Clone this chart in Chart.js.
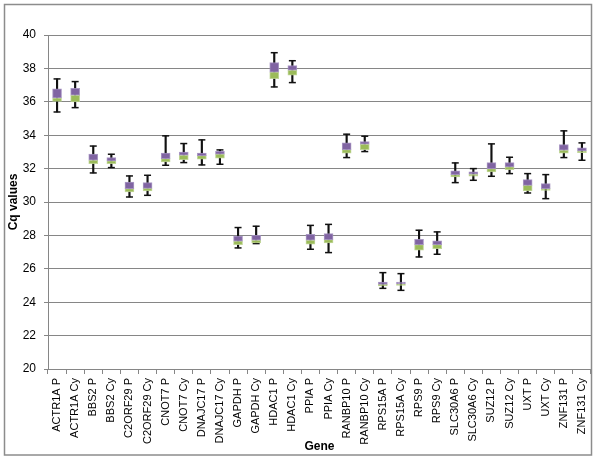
<!DOCTYPE html>
<html>
<head>
<meta charset="utf-8">
<script src="https://cdn.jsdelivr.net/npm/chart.js@4.4.1/dist/chart.umd.min.js"></script>
<style>
  html, body { margin: 0; padding: 0; background: #fff; }
  #wrap { width: 600px; height: 462px; }
</style>
</head>
<body>
<div id="wrap"><canvas id="chart" width="600" height="462"></canvas></div>
<script>
// Data
const genes = ['ACTR1A P', 'ACTR1A Cy', 'BBS2 P', 'BBS2 Cy', 'C2ORF29 P', 'C2ORF29 Cy',
    'CNOT7 P', 'CNOT7 Cy', 'DNAJC17 P', 'DNAJC17 Cy', 'GAPDH P', 'GAPDH Cy',
    'HDAC1 P', 'HDAC1 Cy', 'PPIA P', 'PPIA Cy', 'RANBP10 P', 'RANBP10 Cy',
    'RPS15A P', 'RPS15A Cy', 'RPS9 P', 'RPS9 Cy', 'SLC30A6 P', 'SLC30A6 Cy',
    'SUZ12 P', 'SUZ12 Cy', 'UXT P', 'UXT Cy', 'ZNF131 P', 'ZNF131 Cy'];

const whiskerMin = [35.39, 35.65, 31.74, 32.06, 30.30, 30.40, 32.20, 32.36, 32.22, 32.26,
    27.25, 27.51, 36.89, 37.15, 27.17, 26.97, 32.66, 33.02, 24.83, 24.71,
    26.71, 26.87, 31.16, 31.30, 31.54, 31.70, 30.54, 30.20, 32.66, 32.50];
const q1 = [36.03, 35.99, 32.30, 32.30, 30.60, 30.66, 32.40, 32.54, 32.56, 32.62,
    27.45, 27.55, 37.39, 37.59, 27.47, 27.55, 32.93, 33.14, 24.97, 25.00,
    27.11, 27.21, 31.50, 31.54, 31.80, 31.94, 30.66, 30.70, 32.93, 32.96];
const median = [36.23, 36.39, 32.50, 32.46, 30.80, 30.82, 32.60, 32.80, 32.78, 32.87,
    27.66, 27.71, 37.78, 37.89, 27.71, 27.75, 33.14, 33.46, 25.07, 25.09,
    27.45, 27.45, 31.64, 31.66, 32.00, 32.10, 31.00, 30.80, 33.10, 33.06];
const q3 = [36.77, 36.81, 32.87, 32.66, 31.20, 31.16, 32.93, 32.99, 32.93, 33.04,
    27.96, 28.00, 38.35, 38.17, 28.07, 28.11, 33.54, 33.62, 25.21, 25.21,
    27.77, 27.67, 31.86, 31.80, 32.36, 32.36, 31.34, 31.10, 33.44, 33.24];
const whiskerMax = [37.37, 37.21, 33.35, 32.86, 31.56, 31.60, 33.96, 33.50, 33.72, 33.12,
    28.47, 28.55, 38.94, 38.46, 28.60, 28.66, 34.06, 33.94, 25.77, 25.71,
    28.31, 28.21, 32.34, 32.00, 33.48, 32.68, 31.70, 31.64, 34.26, 33.54];

const yMin = 20;
const yMax = 40;
const yStep = 2;

const GRID = '#868686';
const PURPLE = '#8064A2';
const GREEN = '#9BBB59';

Chart.defaults.font.family = '"Liberation Sans Narrow", "Liberation Sans", Arial, sans-serif';
Chart.defaults.color = '#000';

// outer frame round the whole chart
const framePlugin = {
    id: 'frame',
    afterDraw(chart) {
        const ctx = chart.ctx;
        ctx.save();
        ctx.strokeStyle = '#8c8c8c';
        ctx.lineWidth = 1.5;
        ctx.strokeRect(4.5, 4.5, 587, 450.5);
        ctx.restore();
    }
};

const boxes = (values, lows, color, edge) => ({
    type: 'bar',
    data: values.map((v, i) => [lows[i], v]),
    backgroundColor: color,
    borderColor: edge,
    borderWidth: 1,
    borderSkipped: false,
    barThickness: 9,
    grouped: false,
    order: 1
});

const caps = (values) => ({
    type: 'line',
    data: values,
    showLine: false,
    pointStyle: 'line',
    pointRadius: 3.5,
    pointHoverRadius: 3.5,
    borderColor: '#111',
    borderWidth: 1.5,
    order: 3
});

new Chart(document.getElementById('chart'), {
    data: {
        labels: genes,
        datasets: [
            boxes(q3, median, PURPLE, 'rgba(160,140,190,0.9)'),
            boxes(median, q1, GREEN, 'rgba(185,210,140,0.9)'),
            {
                type: 'bar',
                data: whiskerMax.map((v, i) => [whiskerMin[i], v]),
                backgroundColor: '#111',
                barThickness: 1.5,
                grouped: false,
                order: 4
            },
            caps(whiskerMin),
            caps(whiskerMax)
        ]
    },
    options: {
        responsive: false,
        animation: false,
        layout: { padding: { left: 4, right: 9, top: 35, bottom: 7 } },
        plugins: {
            legend: { display: false },
            tooltip: { enabled: false }
        },
        scales: {
            x: {
                type: 'category',
                offset: true,
                grid: {
                    display: true,
                    offset: true,
                    drawOnChartArea: false,
                    drawTicks: true,
                    tickLength: 5,
                    color: GRID
                },
                border: { display: true, color: GRID },
                ticks: {
                    autoSkip: false,
                    maxRotation: 90,
                    minRotation: 90,
                    padding: 4,
                    font: { size: 11 }
                },
                title: {
                    display: true,
                    text: 'Gene',
                    font: { size: 12, weight: 'bold' },
                    padding: { top: 0, bottom: 1 }
                },
                afterFit(scale) { scale.height = 86; }
            },
            y: {
                min: yMin,
                max: yMax,
                grid: {
                    color: GRID,
                    tickLength: 4
                },
                border: { display: true, color: GRID },
                ticks: {
                    stepSize: yStep,
                    padding: 8,
                    font: { size: 12 }
                },
                title: {
                    display: true,
                    text: 'Cq values',
                    font: { size: 12, weight: 'bold' },
                    padding: { top: 2, bottom: 0 }
                },
                afterFit(scale) { scale.width = 44; }
            }
        }
    },
    plugins: [framePlugin]
});
</script>
</body>
</html>
